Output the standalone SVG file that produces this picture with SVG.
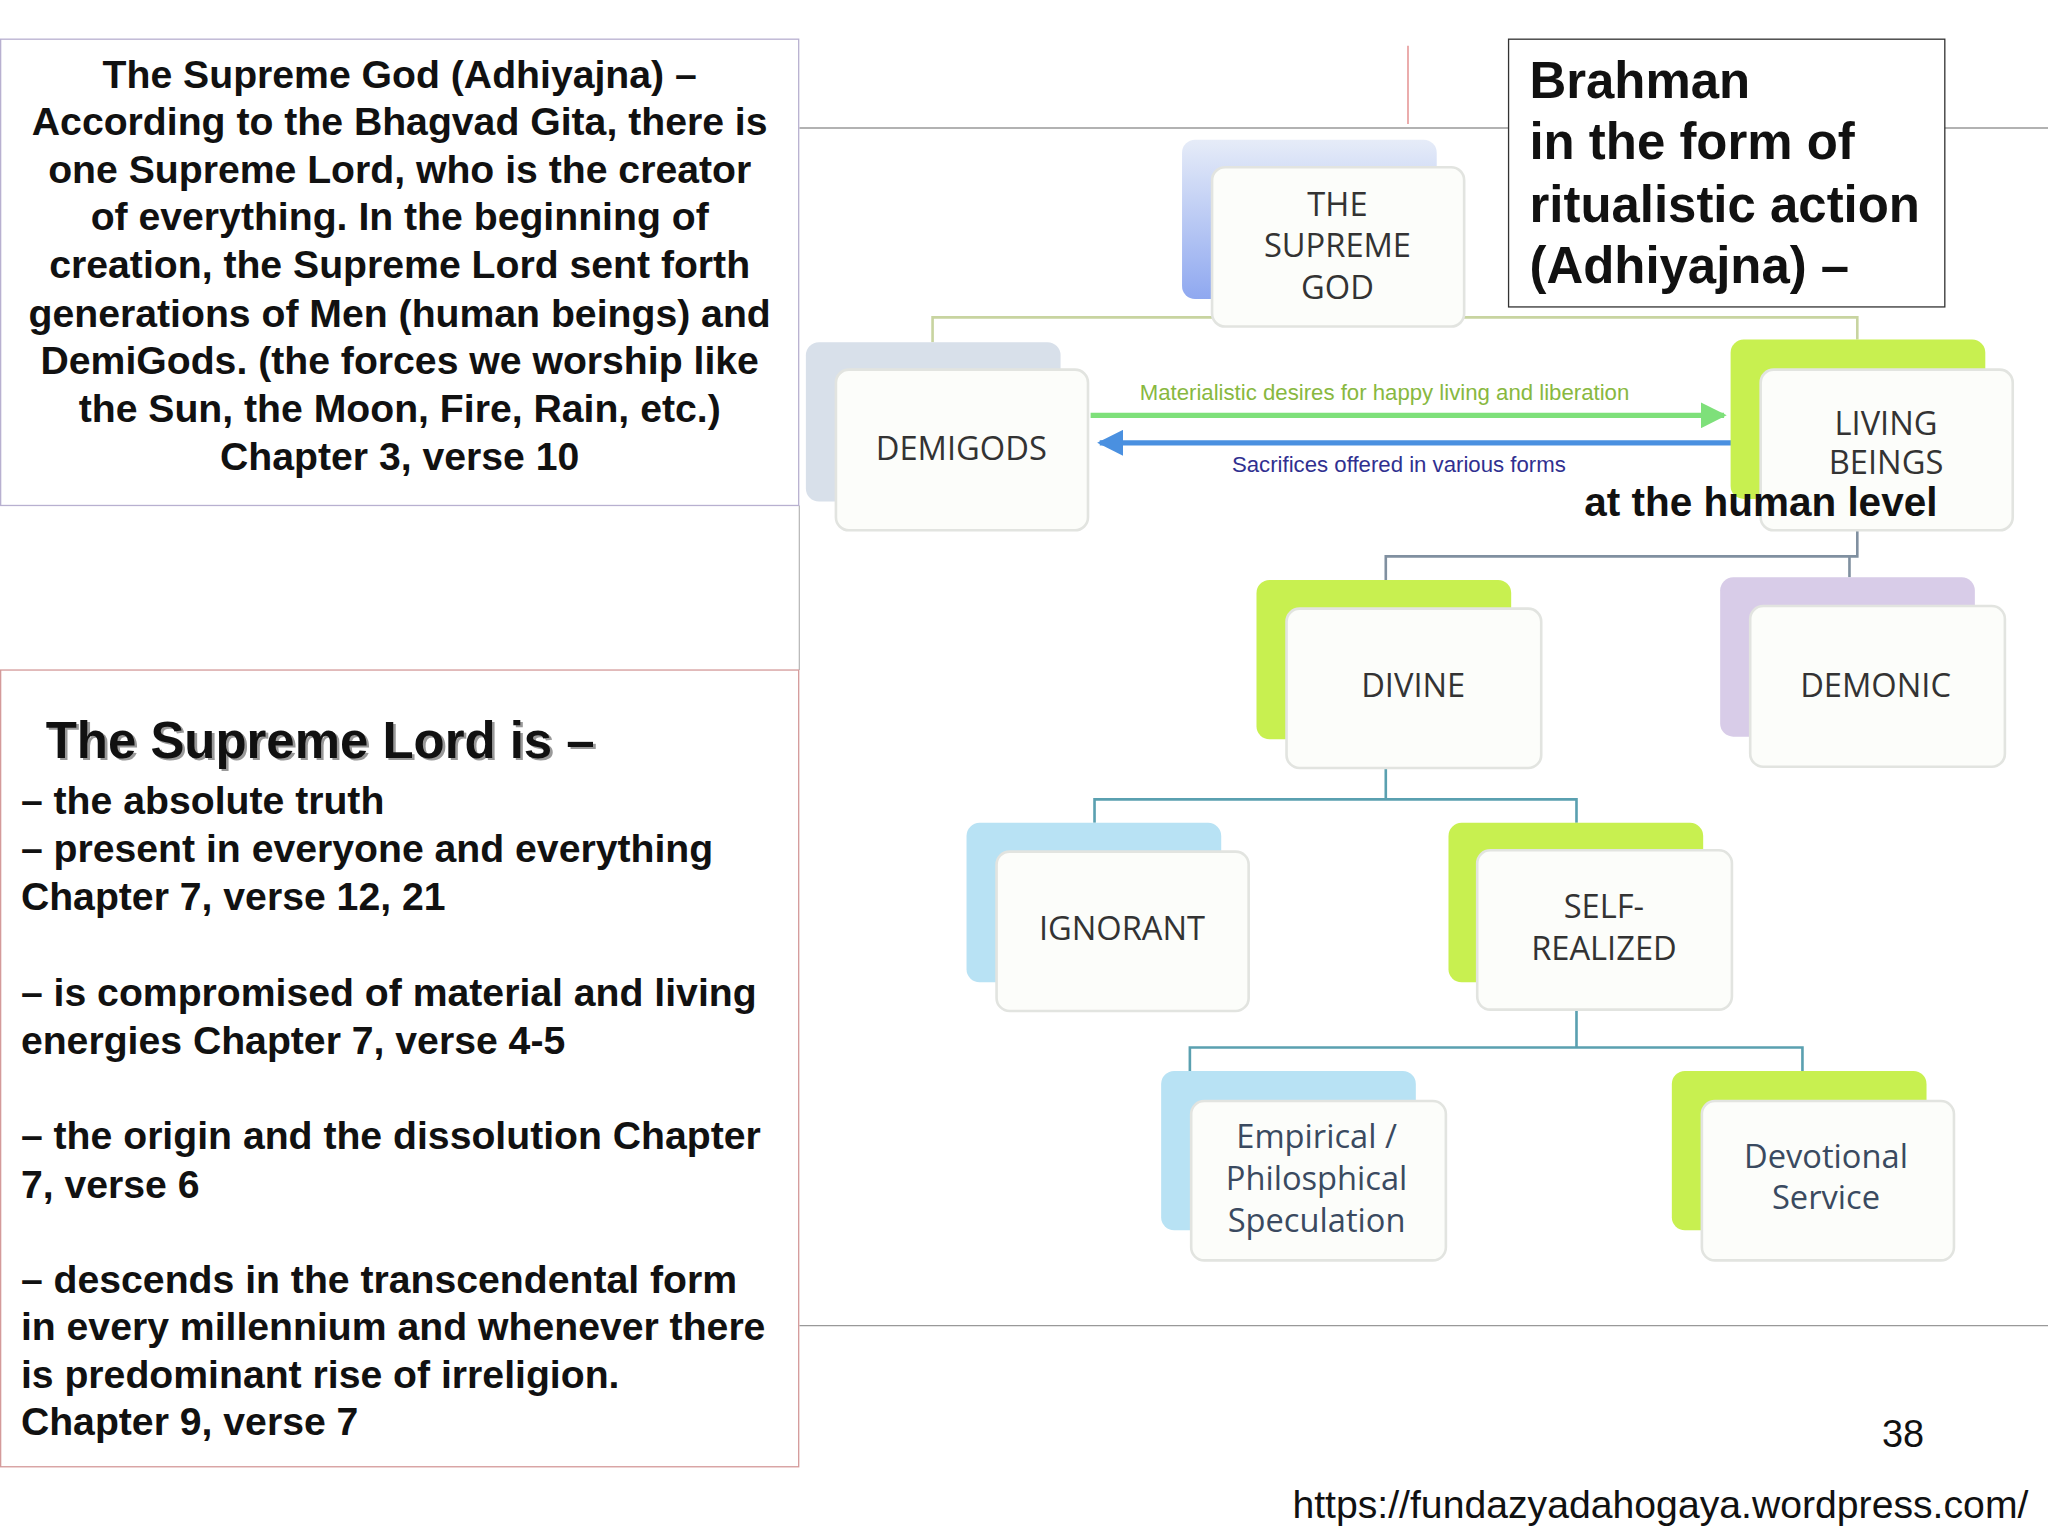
<svg xmlns="http://www.w3.org/2000/svg" width="2048" height="1536" viewBox="0 0 2048 1536">
<style>
.t{font-family:"Liberation Sans",Arial,sans-serif;font-weight:bold;font-size:30px;fill:#111}
.n{font-family:"Open Sans","DejaVu Sans",sans-serif;font-size:25px;fill:#333;text-anchor:middle}
.fr{fill:#fcfdfa;stroke:#e2e4e0;stroke-width:2}
.c{fill:none;stroke-width:2}
</style>
<defs>
<marker id="ag" viewBox="0 0 10 10" refX="9" refY="5" markerWidth="5" markerHeight="5" orient="auto"><path d="M0,0L10,5L0,10z" fill="#7ee07a"/></marker>
<marker id="ab" viewBox="0 0 10 10" refX="9" refY="5" markerWidth="5" markerHeight="5" orient="auto"><path d="M0,0L10,5L0,10z" fill="#4a90e0"/></marker>
<linearGradient id="gb" x1="0" x2="0" y1="0" y2="1"><stop offset="0" stop-color="#e6ecf8"/><stop offset="1" stop-color="#8fa8f0"/></linearGradient>
</defs>
<rect width="2048" height="1536" fill="#fff"/>
<g transform="scale(1.30612)">
<g id="frame" fill="none">
<line x1="612" y1="98" x2="1568" y2="98" stroke="#999"/>
<line x1="612" y1="1015" x2="1568" y2="1015" stroke="#999"/>
<line x1="612" y1="387" x2="612" y2="513" stroke="#bbb"/>
<line x1="1078" y1="35" x2="1078" y2="95" stroke="#e08080"/>
</g>
<g id="textbox1">
<rect x="0.5" y="30" width="611" height="357" fill="#fff" stroke="#b8b0d0"/>
<g class="t" text-anchor="middle">
<text x="306" y="67">The Supreme God (Adhiyajna) –</text>
<text x="306" y="103">According to the Bhagvad Gita, there is</text>
<text x="306" y="140">one Supreme Lord, who is the creator</text>
<text x="306" y="176">of everything. In the beginning of</text>
<text x="306" y="213">creation, the Supreme Lord sent forth</text>
<text x="306" y="250">generations of Men (human beings) and</text>
<text x="306" y="286">DemiGods. (the forces we worship like</text>
<text x="306" y="323">the Sun, the Moon, Fire, Rain, etc.)</text>
<text x="306" y="360">Chapter 3, verse 10</text>
</g>
</g>
<g id="textbox2">
<rect x="0.5" y="513" width="611" height="610" fill="#fff" stroke="#d49a9a"/>
<text x="37" y="582" style="font-family:'Liberation Sans',Arial,sans-serif;font-weight:bold;font-size:39px;fill:#999">The Supreme Lord is –</text>
<text x="35" y="580" style="font-family:'Liberation Sans',Arial,sans-serif;font-weight:bold;font-size:39px;fill:#111">The Supreme Lord is –</text>
<g class="t">
<text x="16" y="623">– the absolute truth</text>
<text x="16" y="660">– present in everyone and everything</text>
<text x="16" y="697">Chapter 7, verse 12, 21</text>
<text x="16" y="770">– is compromised of material and living</text>
<text x="16" y="807">energies Chapter 7, verse 4-5</text>
<text x="16" y="880">– the origin and the dissolution Chapter</text>
<text x="16" y="917">7, verse 6</text>
<text x="16" y="990">– descends in the transcendental form</text>
<text x="16" y="1026">in every millennium and whenever there</text>
<text x="16" y="1063">is predominant rise of irreligion.</text>
<text x="16" y="1099">Chapter 9, verse 7</text>
</g>
</g>
<g id="connectors">
<path class="c" stroke="#c8d4a0" d="M714,262V243H1422V260"/>
<path class="c" stroke="#8090a0" d="M1422,406V426H1061V444M1416,426V442"/>
<path class="c" stroke="#5aa0b0" d="M1061,588V612H838V630M1061,612H1207V630"/>
<path class="c" stroke="#5aa0b0" d="M1207,773V802H911V820M1207,802H1380V820"/>
<line x1="835" y1="318" x2="1320" y2="318" stroke="#7ee07a" stroke-width="4" marker-end="url(#ag)"/>
<line x1="1327" y1="339" x2="842" y2="339" stroke="#4a90e0" stroke-width="4" marker-end="url(#ab)"/>
<text x="1060" y="306" text-anchor="middle" style="font-family:'Liberation Sans',Arial,sans-serif;font-size:17px;fill:#88b840">Materialistic desires for happy living and liberation</text>
<text x="1071" y="361" text-anchor="middle" style="font-family:'Liberation Sans',Arial,sans-serif;font-size:17px;fill:#303090">Sacrifices offered in various forms</text>
</g>
<g id="n-god"><rect x="905" y="107" width="195" height="122" rx="10" fill="url(#gb)"/><rect class="fr" x="928" y="128" width="193" height="122" rx="10"/>
<text class="n" x="1024" y="165">THE</text><text class="n" x="1024" y="197">SUPREME</text><text class="n" x="1024" y="229">GOD</text></g>
<g id="n-demigods"><rect x="617" y="262" width="195" height="122" rx="10" fill="#d8e0ea"/><rect class="fr" x="640" y="283" width="193" height="123" rx="10"/>
<text class="n" x="736" y="352">DEMIGODS</text></g>
<g id="n-living"><rect x="1325" y="260" width="195" height="122" rx="10" fill="#c8f050"/><rect class="fr" x="1348" y="283" width="193" height="123" rx="10"/>
<text class="n" x="1444" y="333">LIVING</text><text class="n" x="1444" y="363">BEINGS</text></g>
<g id="n-divine"><rect x="962" y="444" width="195" height="122" rx="10" fill="#c8f050"/><rect class="fr" x="985" y="466" width="195" height="122" rx="10"/>
<text class="n" x="1082" y="534">DIVINE</text></g>
<g id="n-demonic"><rect x="1317" y="442" width="195" height="122" rx="10" fill="#d8cce8"/><rect class="fr" x="1340" y="464" width="195" height="123" rx="10"/>
<text class="n" x="1436" y="534">DEMONIC</text></g>
<g id="n-ignorant"><rect x="740" y="630" width="195" height="122" rx="10" fill="#b8e2f4"/><rect class="fr" x="763" y="652" width="193" height="122" rx="10"/>
<text class="n" x="859" y="720">IGNORANT</text></g>
<g id="n-self"><rect x="1109" y="630" width="195" height="122" rx="10" fill="#c8f050"/><rect class="fr" x="1131" y="651" width="195" height="122" rx="10"/>
<text class="n" x="1228" y="703">SELF-</text><text class="n" x="1228" y="735">REALIZED</text></g>
<g id="n-empirical"><rect x="889" y="820" width="195" height="122" rx="10" fill="#b8e2f4"/><rect class="fr" x="912" y="843" width="195" height="122" rx="10"/>
<text class="n" x="1008" y="879" style="fill:#3a4a60">Empirical /</text><text class="n" x="1008" y="911" style="fill:#3a4a60">Philosphical</text><text class="n" x="1008" y="943" style="fill:#3a4a60">Speculation</text></g>
<g id="n-devotional"><rect x="1280" y="820" width="195" height="122" rx="10" fill="#c8f050"/><rect class="fr" x="1303" y="843" width="193" height="122" rx="10"/>
<text class="n" x="1398" y="894" style="fill:#3a4a60">Devotional</text><text class="n" x="1398" y="926" style="fill:#3a4a60">Service</text></g>
<text class="t" x="1213" y="395" style="font-size:31px">at the human level</text>
<g id="brahman">
<rect x="1155" y="30" width="334" height="205" fill="#fff" stroke="#333"/>
<g style="font-family:'Liberation Sans',Arial,sans-serif;font-weight:bold;font-size:39px;fill:#111">
<text x="1171" y="75">Brahman</text><text x="1171" y="122">in the form of</text><text x="1171" y="170">ritualistic action</text><text x="1171" y="217">(Adhiyajna) –</text>
</g>
</g>
<text x="1457" y="1108" text-anchor="middle" style="font-family:'Liberation Sans',Arial,sans-serif;font-size:29px;fill:#111">38</text>
<text x="1553" y="1162" text-anchor="end" style="font-family:'Liberation Sans',Arial,sans-serif;font-size:30px;fill:#111">https://fundazyadahogaya.wordpress.com/</text>
</g>
</svg>
